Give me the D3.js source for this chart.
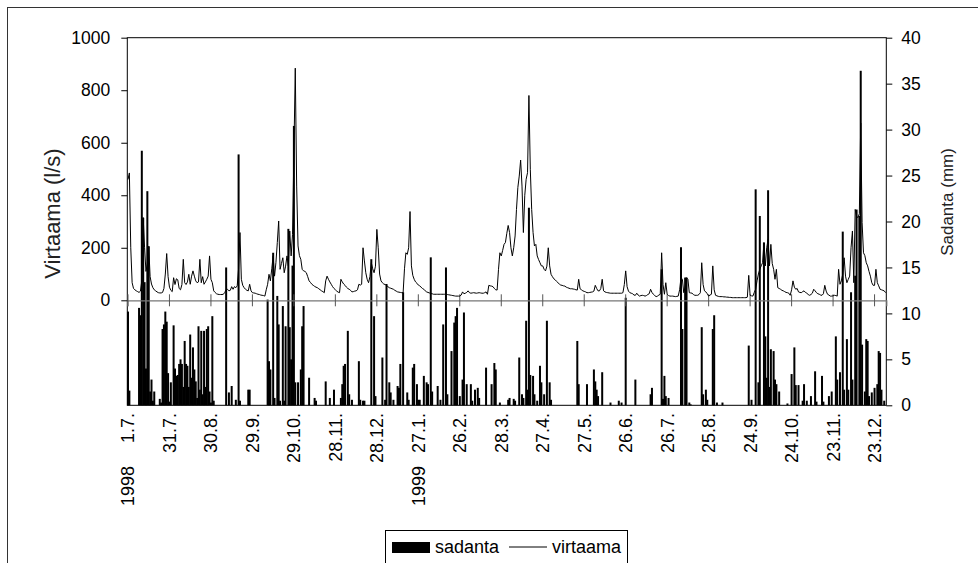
<!DOCTYPE html>
<html>
<head>
<meta charset="utf-8">
<script src="https://cdn.jsdelivr.net/npm/d3@7"></script>
<style>
  body { margin: 0; background: #fff; }
  svg { display: block; font-family: "Liberation Sans", Arial, sans-serif; }
</style>
</head>
<body>
<svg id="chart" width="978" height="563"></svg>
<script>
// Daily precipitation (mm), 1.7.1998 – 31.12.1999
const rain = [
  10.2, 1.6, 0, 0, 0, 0, 0, 0, 10.6, 9.8,
  27.7, 20.4, 13.4, 4.0, 23.3, 17.3, 1.5, 2.8, 0.5, 1.5,
  0, 0, 0, 0.7, 0.3, 8.3, 8.8, 10.2, 9.1, 3.5,
  0.4, 2.5, 0, 8.7, 4.0, 3.2, 3.3, 4.5, 5.0, 4.5,
  2.0, 7.0, 4.5, 4.3, 2.0, 7.7, 3.0, 6.3, 3.9, 2.6,
  0.8, 8.6, 1.7, 8.1, 1.2, 8.1, 2.0, 8.3, 8.6, 1.5,
  0.3, 9.7, 0.5, 0, 0, 0, 0, 0, 0, 0,
  0, 15.0, 0, 1.4, 0, 2.1, 0, 0, 0.6, 0,
  27.3, 0.5, 0, 0, 0, 0, 0, 1.7, 1.7, 0,
  0, 0, 0, 0, 0, 0, 0, 0, 0, 0,
  0, 11.5, 4.8, 3.9, 0, 16.6, 0.8, 0, 11.9, 8.8,
  0.5, 0, 10.8, 0.5, 8.6, 0, 19.2, 8.5, 5.0, 15.2,
  30.4, 2.5, 0, 2.5, 0, 3.9, 8.6, 10.8, 0, 0,
  0, 3.0, 0, 0, 0, 0.8, 0.5, 0, 0, 0,
  0, 0, 0, 2.6, 0, 0, 0.8, 0, 0, 1.7,
  0, 0, 0, 0, 0.8, 2.3, 4.3, 4.5, 0, 8.1,
  1.2, 0, 0.6, 0, 0, 0, 0, 4.8, 0.6, 0,
  0.5, 0.5, 0, 0, 0, 0, 15.9, 0, 9.7, 1.0,
  0, 0, 0, 0, 5.2, 0, 0.6, 13.2, 0, 2.5,
  1.4, 0, 0.6, 0, 0, 2.1, 1.9, 4.5, 0, 12.3,
  0, 0, 1.4, 0.6, 0, 0, 4.1, 4.5, 0, 2.3,
  0.6, 0.6, 0, 0, 3.2, 0, 2.5, 2.3, 0, 16.1,
  1.5, 0, 0, 0, 2.1, 0, 0.6, 0, 8.8, 0,
  15.0, 1.2, 0, 0, 5.9, 0, 9.0, 9.7, 10.6, 0,
  1.0, 0, 2.8, 10.1, 0, 2.3, 0, 0, 2.3, 0.5,
  0, 1.7, 0, 1.9, 0.8, 0, 0, 0, 0, 4.1,
  0, 0, 0, 2.3, 0, 4.6, 3.9, 0, 0, 0.3,
  0, 0, 0, 0, 0, 0.6, 0.8, 0, 0, 0.7,
  0.5, 0, 0, 5.2, 0, 1.2, 0.8, 0, 9.2, 1.7,
  21.5, 3.3, 0, 3.2, 1.2, 0, 0.5, 0, 4.3, 2.5,
  0, 1.2, 0, 9.2, 0, 2.5, 0.6, 0, 0, 0,
  0, 0, 0, 0, 0, 0, 0, 0, 0, 0,
  0, 0, 0, 0, 0, 7.0, 2.3, 0, 0, 0,
  0, 0, 2.3, 0, 0, 0, 0, 3.9, 2.6, 1.7,
  1.0, 0, 0, 3.6, 0, 0, 0, 0, 0, 0.3,
  0, 0, 0, 0, 0, 0.5, 0, 0.3, 0, 0,
  11.7, 0, 0, 0, 0, 0, 0, 2.8, 0, 0,
  0, 0, 0, 0, 0, 0, 0, 0, 1.2, 1.9,
  0, 0, 0, 0, 0, 0, 14.8, 0.7, 3.2, 1.0,
  0, 0.8, 0, 0, 0, 0, 0, 0, 0, 0,
  17.2, 8.3, 0, 13.9, 13.9, 0, 0.3, 0.1, 0, 0,
  0, 0, 0, 0, 0, 8.5, 1.2, 0, 1.7, 0.6,
  0, 0, 0, 8.3, 9.8, 0, 0.3, 0, 0, 0,
  0.3, 0, 0, 0, 0, 0, 0, 0, 0, 0,
  0, 0, 0, 0, 0, 0, 0, 0, 0, 6.5,
  0, 0.6, 0, 0, 23.5, 0, 2.5, 20.6, 0, 0,
  17.7, 7.5, 3.0, 23.4, 2.0, 6.1, 0, 5.9, 2.8, 2.3,
  0, 1.5, 0, 0, 0, 0, 0, 0.2, 0, 0,
  3.4, 0, 6.3, 2.2, 0, 2.2, 0, 0, 0.5, 2.3,
  0, 0.5, 0, 0, 1.0, 0, 0, 3.7, 0.4, 0,
  0, 0, 3.2, 0.4, 0, 0, 0, 1.0, 0, 1.5,
  0, 0, 7.5, 2.8, 0, 3.6, 0, 18.9, 1.7, 0,
  7.2, 1.7, 0, 12.3, 2.8, 0, 14.1, 21.3, 0, 20.6,
  36.4, 6.6, 0, 1.5, 7.2, 7.0, 1.0, 0, 1.4, 0,
  1.9, 0, 2.3, 5.9, 5.7, 1.7, 0, 0.5, 0
];

// Daily discharge (l/s), same days
const flow = [
  460, 485, 200, 67, 45, 40, 36, 33, 30, 35,
  75, 315, 200, 110, 140, 205, 90, 62, 48, 40,
  36, 32, 29, 28, 28, 30, 45, 100, 178, 90,
  50, 38, 33, 86, 60, 82, 78, 45, 40, 60,
  156, 67, 60, 70, 99, 61, 92, 112, 92, 74,
  67, 70, 156, 67, 90, 61, 70, 80, 92, 169,
  80, 67, 36, 30, 25, 23, 22, 22, 22, 23,
  30, 40, 42, 36, 38, 52, 42, 52, 48, 55,
  120, 258, 80, 57, 48, 42, 38, 36, 61, 36,
  29, 28, 27, 25, 23, 22, 20, 19, 18, 16,
  40, 61, 99, 74, 120, 169, 92, 143, 220, 302,
  118, 140, 162, 105, 130, 169, 131, 264, 169, 250,
  560, 884, 435, 207, 170, 156, 118, 112, 110, 105,
  90, 74, 68, 61, 57, 53, 50, 48, 44, 40,
  36, 33, 29, 74, 92, 80, 70, 61, 52, 45,
  40, 35, 31, 29, 80, 70, 62, 57, 50, 45,
  42, 38, 32, 33, 35, 36, 40, 61, 58, 61,
  200, 150, 105, 80, 67, 90, 143, 120, 105, 130,
  270, 200, 100, 74, 67, 62, 60, 57, 52, 48,
  46, 44, 42, 38, 35, 32, 31, 30, 29, 29,
  120, 181, 175, 200, 338, 131, 95, 80, 70, 65,
  58, 55, 50, 45, 42, 36, 32, 30, 28, 26,
  25, 23, 23, 23, 23, 23, 23, 23, 23, 23,
  23, 22, 21, 20, 19, 18, 17, 16, 16, 16,
  16, 20, 32, 25, 27, 30, 36, 29, 27, 28,
  29, 28, 27, 28, 29, 28, 27, 27, 29, 32,
  23, 57, 55, 54, 52, 45, 40, 39, 118, 181,
  169, 190, 213, 220, 255, 285, 258, 200, 169, 200,
  245, 346, 430, 473, 534, 435, 258, 400, 461, 486,
  780, 499, 346, 258, 207, 213, 169, 155, 143, 131,
  131, 118, 112, 130, 200, 131, 99, 90, 82, 78,
  72, 67, 62, 58, 57, 55, 54, 50, 48, 46,
  44, 44, 43, 42, 40, 39, 80, 44, 40, 36,
  34, 32, 29, 29, 30, 31, 32, 35, 57, 45,
  36, 36, 45, 80, 36, 32, 30, 29, 28, 27,
  27, 27, 27, 27, 27, 27, 27, 27, 29, 60,
  112, 52, 35, 29, 27, 25, 20, 19, 27, 20,
  16, 18, 19, 18, 16, 18, 22, 25, 42, 30,
  23, 18, 14, 16, 20, 23, 181, 60, 23, 67,
  23, 18, 16, 16, 16, 15, 14, 15, 16, 40,
  86, 80, 29, 50, 86, 80, 29, 28, 27, 22,
  19, 19, 19, 22, 29, 143, 60, 36, 32, 25,
  16, 20, 23, 131, 40, 19, 17, 15, 14, 14,
  14, 13, 13, 12, 12, 11, 11, 10, 10, 10,
  10, 10, 10, 10, 10, 10, 10, 10, 12, 95,
  19, 17, 16, 30, 42, 74, 100, 118, 131, 143,
  220, 131, 200, 232, 131, 213, 140, 118, 80, 118,
  48, 45, 42, 38, 36, 33, 30, 29, 27, 19,
  40, 74, 50, 42, 45, 32, 30, 29, 33, 36,
  30, 27, 22, 19, 22, 27, 42, 36, 29, 25,
  23, 20, 19, 25, 57, 35, 23, 20, 16, 16,
  17, 19, 18, 16, 118, 61, 74, 100, 162, 92,
  67, 80, 92, 200, 264, 67, 346, 320, 315, 330,
  675, 296, 181, 170, 143, 131, 110, 92, 67, 57,
  57, 118, 67, 55, 42, 40, 38, 36, 29
];

// Date labels every 30 days (day index from 1.7.1998)
const tickDays = [0, 30, 60, 90, 120, 150, 180, 210, 240, 270, 300, 330, 360, 390, 420, 450, 480, 510, 540];
const tickLabels = ["1.7.", "31.7.", "30.8.", "29.9.", "29.10.", "28.11.", "28.12.", "27.1.", "26.2.", "28.3.",
                    "27.4.", "27.5.", "26.6.", "26.7.", "25.8.", "24.9.", "24.10.", "23.11.", "23.12."];
const yearDays = [0, 210];
const yearLabels = ["1998", "1999"];

const flowTicks = [0, 200, 400, 600, 800, 1000];
const rainTicks = [0, 5, 10, 15, 20, 25, 30, 35, 40];

const svg = d3.select("#chart");
const plotL = 127.3, plotR = 886.3, plotT = 37.7, plotB = 405.3, zeroY = 300.3;

const x = d3.scaleBand().domain(d3.range(rain.length)).range([plotL, plotR]).padding(0);
const cx = i => x(i) + x.bandwidth() / 2;
const yFlow = d3.scaleLinear().domain([0, 1000]).range([zeroY, plotT]);
const yRain = d3.scaleLinear().domain([0, 40]).range([plotB, plotT]);

const FONT = "'Liberation Sans', Arial, sans-serif";

// outer chart frame
svg.append("rect")
  .attr("x", 7.5).attr("y", 7.5).attr("width", 1000).attr("height", 600)
  .attr("fill", "none").attr("stroke", "#333").attr("stroke-width", 1);

// precipitation columns
svg.append("g")
  .selectAll("rect")
  .data(rain.map((v, i) => ({ v, i })).filter(d => d.v > 0))
  .join("rect")
  .attr("x", d => cx(d.i) - 1)
  .attr("width", 2)
  .attr("y", d => yRain(d.v))
  .attr("height", d => plotB - yRain(d.v))
  .attr("fill", "#000");

// plot area border
svg.append("rect")
  .attr("x", plotL).attr("y", plotT).attr("width", plotR - plotL).attr("height", plotB - plotT)
  .attr("fill", "none").attr("stroke", "#000").attr("stroke-width", 1);

// category axis on the zero discharge line
const xAxisLine = svg.append("g")
  .attr("transform", `translate(0,${zeroY})`)
  .call(d3.axisBottom(x).tickValues(tickDays).tickSize(6).tickFormat(""));
xAxisLine.select(".domain").attr("stroke", "#777").attr("stroke-width", 1.2);
xAxisLine.selectAll(".tick line").attr("y1", -6).attr("y2", 6).attr("stroke", "#555");

// date labels under the plot
const xLabels = svg.append("g")
  .attr("transform", `translate(0,${plotB})`)
  .call(d3.axisBottom(x).tickValues(tickDays).tickSize(0).tickFormat(d => tickLabels[tickDays.indexOf(d)]));
xLabels.select(".domain").remove();
xLabels.selectAll(".tick text")
  .attr("transform", "rotate(-90)")
  .attr("x", -7.7).attr("y", 0).attr("dy", "0.36em")
  .style("text-anchor", "end")
  .style("font-size", "18px")
  .style("font-family", FONT)
  .attr("fill", "#000");

// year labels
svg.append("g")
  .selectAll("text")
  .data(yearDays)
  .join("text")
  .attr("transform", d => `translate(${cx(d)},506) rotate(-90)`)
  .attr("dy", "0.36em")
  .style("font-size", "18px")
  .attr("fill", "#000")
  .text((d, i) => yearLabels[i]);

// left axis: discharge
const yLeft = svg.append("g")
  .attr("transform", `translate(${plotL},0)`)
  .call(d3.axisLeft(yFlow).tickValues(flowTicks).tickSize(6).tickPadding(11).tickFormat(d3.format("d")));
yLeft.select(".domain").remove();
yLeft.selectAll(".tick line").attr("stroke", "#000");
yLeft.selectAll(".tick text").style("font-size", "17.5px").style("font-family", FONT).attr("fill", "#000");

// right axis: precipitation
const yRight = svg.append("g")
  .attr("transform", `translate(${plotR},0)`)
  .call(d3.axisRight(yRain).tickValues(rainTicks).tickSize(6).tickPadding(9).tickFormat(d3.format("d")));
yRight.select(".domain").remove();
yRight.selectAll(".tick line").attr("stroke", "#000");
yRight.selectAll(".tick text").style("font-size", "17.5px").style("font-family", FONT).attr("fill", "#000");

// discharge line
svg.append("path")
  .datum(flow)
  .attr("fill", "none")
  .attr("stroke", "#000")
  .attr("stroke-width", 1)
  .attr("stroke-linejoin", "round")
  .attr("d", d3.line().x((d, i) => cx(i)).y(d => yFlow(d)));

// axis titles
svg.append("text")
  .attr("transform", "translate(60,213.5) rotate(-90)")
  .attr("text-anchor", "middle")
  .style("font-size", "22px")
  .attr("fill", "#222")
  .text("Virtaama (l/s)");

svg.append("text")
  .attr("transform", "translate(953,202) rotate(-90)")
  .attr("text-anchor", "middle")
  .style("font-size", "17px")
  .attr("fill", "#222")
  .text("Sadanta (mm)");

// legend
const lg = svg.append("g");
lg.append("rect").attr("x", 385.5).attr("y", 530.5).attr("width", 242).attr("height", 45)
  .attr("fill", "#fff").attr("stroke", "#000").attr("stroke-width", 1);
lg.append("rect").attr("x", 392).attr("y", 542).attr("width", 38).attr("height", 11).attr("fill", "#000");
lg.append("text").attr("x", 435).attr("y", 553).style("font-size", "18px").attr("fill", "#000").text("sadanta");
lg.append("line").attr("x1", 509).attr("x2", 547).attr("y1", 547).attr("y2", 547)
  .attr("stroke", "#000").attr("stroke-width", 1);
lg.append("text").attr("x", 552).attr("y", 553).style("font-size", "18px").attr("fill", "#000").text("virtaama");
</script>
</body>
</html>
